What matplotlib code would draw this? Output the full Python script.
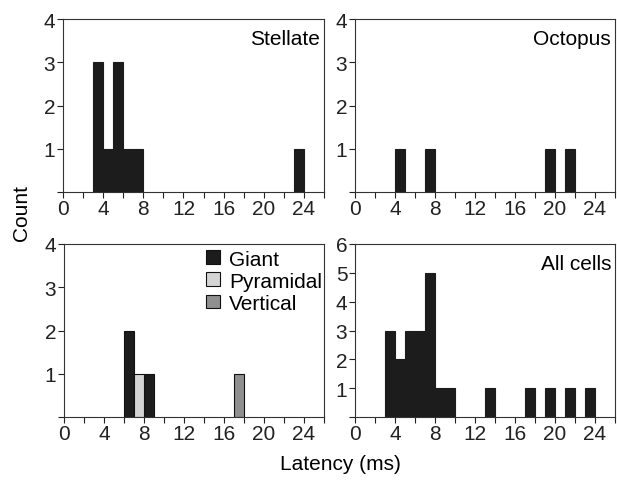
import numpy as np
import matplotlib
matplotlib.use("Agg")
import matplotlib.pyplot as plt
from matplotlib.patches import Patch

plt.rcParams['font.family'] = ['Liberation Sans', 'DejaVu Sans']

# bin left edges (ms, 1 ms bins) and counts
stellate_bins = [3, 4, 5, 6, 7, 23]
stellate_counts = [3, 1, 3, 1, 1, 1]

octopus_bins = [4, 7, 19, 21]
octopus_counts = [1, 1, 1, 1]

giant_bins = [6, 8]
giant_counts = [2, 1]
pyramidal_bins = [7]
pyramidal_counts = [1]
vertical_bins = [17]
vertical_counts = [1]

all_bins = [3, 4, 5, 6, 7, 8, 9, 13, 17, 19, 21, 23]
all_counts = [3, 2, 3, 3, 5, 1, 1, 1, 1, 1, 1, 1]

black = '#1c1c1c'
light = '#d4d4d4'
mid = '#8f8f8f'
fs = 15

fig = plt.figure(figsize=(6.17, 4.81), dpi=100)
W, H = 617, 481
def mkax(l, r, t, b):
    return fig.add_axes([l / W, 1 - b / H, (r - l) / W, (b - t) / H])

ax1 = mkax(63, 324, 20, 193)
ax2 = mkax(355, 615, 20, 193)
ax3 = mkax(64, 324, 245, 418)
ax4 = mkax(355, 615, 245, 418)

def style(ax, ymax):
    ax.set_xlim(0, 26)
    ax.set_ylim(0, ymax)
    ax.set_xticks(np.arange(0, 27, 2))
    ax.set_xticklabels([str(v) if v % 4 == 0 and v <= 24 else '' for v in range(0, 27, 2)])
    ax.set_yticks(range(0, ymax + 1))
    ax.set_yticklabels([''] + [str(v) for v in range(1, ymax + 1)])
    ax.tick_params(direction='out', length=4, width=0.8, labelsize=fs, pad=1.0,
                   colors='#222222')
    ax.tick_params(axis='y', pad=1.5)
    for s in ax.spines.values():
        s.set_linewidth(0.8)
        s.set_color('#333333')

def bars(ax, b, c, color, edge='#111111'):
    ax.bar(b, c, width=1, align='edge', color=color, edgecolor=edge, linewidth=0.8)

bars(ax1, stellate_bins, stellate_counts, black, black)
style(ax1, 4)
ax1.text(0.985, 0.94, 'Stellate', transform=ax1.transAxes, ha='right', va='top', fontsize=fs)

bars(ax2, octopus_bins, octopus_counts, black, black)
style(ax2, 4)
ax2.text(0.985, 0.94, 'Octopus', transform=ax2.transAxes, ha='right', va='top', fontsize=fs)

bars(ax3, giant_bins, giant_counts, black)
bars(ax3, pyramidal_bins, pyramidal_counts, light)
bars(ax3, vertical_bins, vertical_counts, mid)
style(ax3, 4)
handles = [Patch(facecolor=black, edgecolor='#111111', linewidth=0.8, label='Giant'),
           Patch(facecolor=light, edgecolor='#111111', linewidth=0.8, label='Pyramidal'),
           Patch(facecolor=mid, edgecolor='#111111', linewidth=0.8, label='Vertical')]
ax3.legend(handles=handles, loc='upper right', bbox_to_anchor=(1.04, 1.04), frameon=False,
           fontsize=fs, handlelength=0.65, handleheight=0.65, handletextpad=0.45,
           labelspacing=0.15, borderaxespad=0.2)

bars(ax4, all_bins, all_counts, black, black)
style(ax4, 6)
ax4.text(0.985, 0.94, 'All cells', transform=ax4.transAxes, ha='right', va='top', fontsize=fs)

fig.text(22 / W, 1 - 213 / H, 'Count', rotation=90, ha='center', va='center', fontsize=fs)
fig.text(340 / W, 1 - 465 / H, 'Latency (ms)', ha='center', va='center', fontsize=fs)

fig.savefig('out.png', dpi=100)
